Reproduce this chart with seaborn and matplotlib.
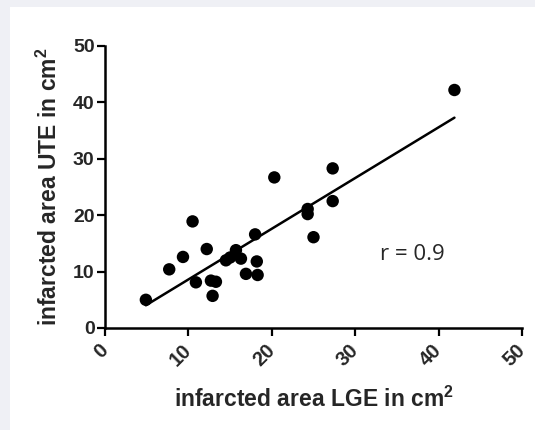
import matplotlib
matplotlib.use("Agg")
import matplotlib.pyplot as plt
import matplotlib.patches as mpatches
import matplotlib.transforms as mtransforms
import seaborn as sns
import numpy as np
import pandas as pd

lge = [4.9, 7.7, 9.35, 10.5, 10.9, 12.2, 12.7, 13.3, 12.9, 14.5, 15.0, 15.7,
       16.3, 16.9, 18.0, 18.2, 18.3, 20.3, 24.3, 24.3, 25.0, 27.3, 27.3, 41.9]
ute = [5.0, 10.4, 12.6, 18.9, 8.1, 14.0, 8.4, 8.2, 5.7, 12.0, 12.5, 13.8,
       12.3, 9.6, 16.6, 11.8, 9.4, 26.7, 21.1, 20.2, 16.1, 28.3, 22.5, 42.2]
ticks = [0, 10, 20, 30, 40, 50]
r_text = "r = 0.9"

df = pd.DataFrame({"LGE": lge, "UTE": ute})

sns.set_theme(style="ticks")
plt.rcParams['font.family'] = ['Liberation Sans', 'DejaVu Sans']
plt.rcParams['mathtext.fontset'] = 'custom'
plt.rcParams['mathtext.bf'] = 'Liberation Sans:bold'
plt.rcParams['mathtext.rm'] = 'Liberation Sans'

W, H = 535, 430
fig = plt.figure(figsize=(W / 100, H / 100), dpi=100)
fig.patch.set_facecolor("#eff0f5")
fig.patches.append(mpatches.Rectangle((10 / W, 0), 1 - 10 / W, 1 - 7 / H,
                                      transform=fig.transFigure,
                                      facecolor="white", edgecolor="none", zorder=-10))

ax = fig.add_axes([105 / W, 1 - 328 / H, (522 - 105) / W, (328 - 46) / H])
ax.set_facecolor("none")

sns.regplot(data=df, x="LGE", y="UTE", ax=ax, ci=None, truncate=True,
            scatter_kws=dict(s=80, color="black", edgecolor="none", alpha=1, zorder=3),
            line_kws=dict(color="black", lw=1.8))

ax.set_xlim(0, 50)
ax.set_ylim(0, 50)
ax.set_xticks(ticks)
ax.set_yticks(ticks)
ax.set_xticklabels([str(t) for t in ticks], rotation=45, ha="right", va="center",
                   rotation_mode="anchor", fontsize=14.5, fontweight="bold")
ax.set_yticklabels([str(t) for t in ticks], fontsize=14, fontweight="bold")
offset = mtransforms.ScaledTranslation(4 / 100, -1 / 100, fig.dpi_scale_trans)
for lab in ax.get_xticklabels():
    lab.set_transform(lab.get_transform() + offset)
sns.despine(ax=ax)
for s in ["left", "bottom"]:
    ax.spines[s].set_linewidth(1.8)
    ax.spines[s].set_color("black")
ax.tick_params(axis="both", length=6, width=1.6, color="black", pad=1.5)
ax.tick_params(axis="x", pad=8)
for sp in ax.spines.values():
    sp.set_clip_on(False)

ax.set_xlabel(r"infarcted area LGE in cm$^{\mathbf{2}}$", fontsize=16.5,
              fontweight="bold", labelpad=12)
ax.set_ylabel(r"infarcted area UTE in cm$^{\mathbf{2}}$", fontsize=16.5,
              fontweight="bold", labelpad=8)

ax.text(36.8, 13.0, r_text, fontsize=16, ha="center", va="center",
        family=["Open Sans", "DejaVu Sans"])

fig.savefig("out.png", dpi=100, facecolor=fig.get_facecolor())
